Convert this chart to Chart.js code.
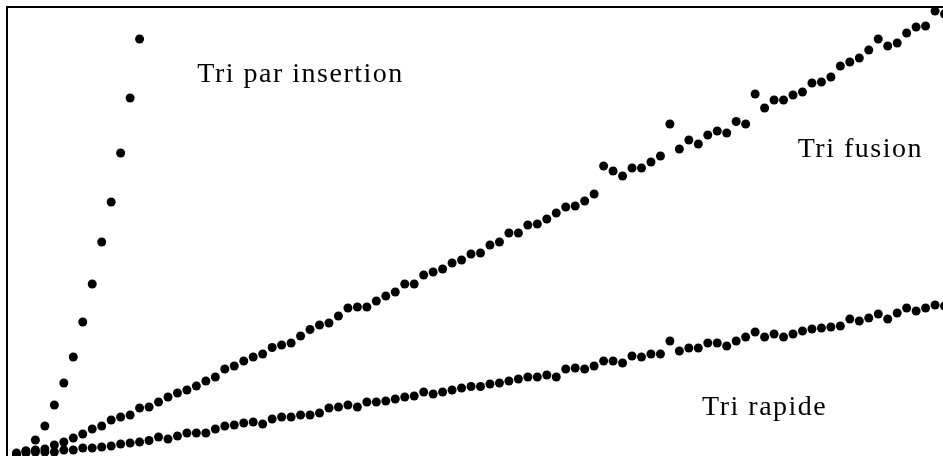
<!DOCTYPE html>
<html>
<head>
<meta charset="utf-8">
<script src="https://cdn.jsdelivr.net/npm/chart.js@4/dist/chart.umd.min.js"></script>
<style>
    html, body { margin: 0; padding: 0; background: #fff; overflow: hidden; }
</style>
</head>
<body>
<canvas id="myChart" width="960" height="470"></canvas>
<script>
// temps mesures (unites arbitraires) en fonction de la taille n = 1, 2, 3 ...
let insertion = [5, 9, 20, 34, 55, 77, 103, 138, 176, 218, 258, 307, 362, 421];

let fusion = [7, 9, 10, 11, 15, 18, 22, 26, 31, 34, 40, 43, 45, 52, 53, 58, 63, 67, 70, 74,
    79, 83, 91, 94, 99, 103, 106, 112.5, 115, 117, 124, 130.5, 135, 137, 144, 152, 153, 153, 159, 164,
    168, 176, 176, 185, 188, 191, 197, 200, 206, 207, 215, 218, 227, 227, 235, 236, 241, 247, 253, 254,
    259, 266, 294, 289, 284, 292, 292, 298, 304, 336, 311, 320, 316, 325, 329, 327, 338.5, 336, 366, 352,
    360, 360, 365, 368, 377, 378, 383, 394, 398, 402, 410, 421, 414, 417, 427, 433, 434, 449, 446];

let rapide = [5, 7, 8, 8, 8, 10, 10, 12, 12, 13, 14, 16, 17, 18, 19.5, 23, 21, 24, 27, 27,
    27, 31, 34, 35, 37, 38, 36, 41, 43, 43, 45, 45, 47, 52, 53, 55, 53, 58, 58, 59,
    61, 63, 64, 68, 66, 68, 70, 72, 73.5, 73.5, 76, 77, 79, 81, 83, 83, 85, 83, 91, 92,
    91, 94, 99, 99, 97, 104, 103, 106, 106, 119, 109, 112, 112, 117, 117, 114, 119, 123, 128, 123,
    126, 123, 126, 129, 131, 132, 133, 134, 141, 139, 142, 146, 141, 147, 152, 149, 152, 155, 154];

let seriesNames = ["Tri par insertion", "Tri fusion", "Tri rapide"];

// ou poser chaque nom (en unites des axes)
let labelSpots = [
    { x: 20.1, y: 378 },
    { x: 83.5, y: 303 },
    { x: 73.4, y: 45 }
];

function toPoints(values) {
    return values.map((v, i) => ({ x: i + 1, y: v }));
}

let frame = {
    id: 'frame',
    afterDatasetsDraw(chart) {
        let ctx = chart.ctx;
        let a = chart.chartArea;
        ctx.save();
        ctx.strokeStyle = '#000';
        ctx.lineWidth = 2;
        ctx.strokeRect(a.left, a.top, a.right - a.left, a.bottom - a.top);

        ctx.fillStyle = '#000';
        ctx.font = '28px "Liberation Serif", "DejaVu Serif", serif';
        ctx.letterSpacing = '1.5px';
        ctx.textAlign = 'left';
        ctx.textBaseline = 'alphabetic';
        for (let i = 0; i < seriesNames.length; i++) {
            let px = chart.scales.x.getPixelForValue(labelSpots[i].x);
            let py = chart.scales.y.getPixelForValue(labelSpots[i].y);
            ctx.fillText(seriesNames[i], px, py);
        }
        ctx.restore();
    }
};

let ctx = document.getElementById("myChart");

let myChart = new Chart(ctx, {
    type: 'scatter',
    data: {
        datasets: [
            { label: seriesNames[0], data: toPoints(insertion) },
            { label: seriesNames[1], data: toPoints(fusion) },
            { label: seriesNames[2], data: toPoints(rapide) }
        ]
    },
    options: {
        responsive: false,
        animation: false,
        layout: {
            padding: { left: 7, top: 7, right: 6, bottom: 10 }
        },
        elements: {
            point: {
                radius: 4.5,
                backgroundColor: '#000',
                borderWidth: 0,
                hoverRadius: 4.5
            }
        },
        datasets: {
            scatter: { clip: false }
        },
        scales: {
            x: { type: 'linear', min: 0, max: 100, display: false },
            y: { type: 'linear', min: 0, max: 453, display: false }
        },
        plugins: {
            legend: { display: false },
            tooltip: { enabled: false }
        }
    },
    plugins: [frame]
});
</script>
</body>
</html>
